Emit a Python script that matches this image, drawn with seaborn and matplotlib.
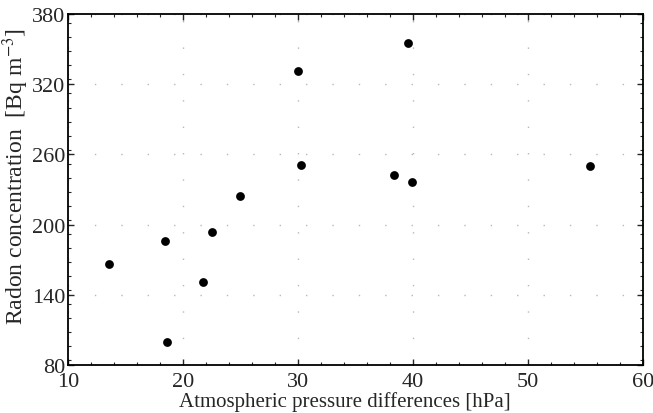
import matplotlib
matplotlib.use("Agg")
import matplotlib.pyplot as plt
import numpy as np
import pandas as pd
import seaborn as sns
from matplotlib.ticker import MultipleLocator

pressure = [13.6, 18.4, 18.6, 21.7, 22.5, 25.0, 30.3, 30.0, 39.6, 38.3, 39.9, 55.4]
radon = [166, 186, 100, 151, 194, 224, 251, 331, 355, 242, 236, 250]

df = pd.DataFrame({'pressure': pressure, 'radon': radon})

sns.set_style("ticks")
plt.rcParams['font.family'] = ['Liberation Serif', 'DejaVu Serif']
plt.rcParams['mathtext.fontset'] = 'stix'

fig = plt.figure(figsize=(6.53, 4.14), dpi=100)
ax = fig.add_axes([0.104, 0.116, 0.881, 0.848])

sns.scatterplot(data=df, x='pressure', y='radon', color='black', s=40,
                edgecolor='black', linewidth=0, ax=ax, zorder=3)

ax.set_xlim(10, 60)
ax.set_ylim(80, 380)
ax.set_xticks([10, 20, 30, 40, 50, 60])
ax.set_yticks([80, 140, 200, 260, 320, 380])
ax.xaxis.set_minor_locator(MultipleLocator(2))
ax.yaxis.set_minor_locator(MultipleLocator(12))
ax.tick_params(which='both', direction='in', top=True, right=True, labelsize=16)
ax.tick_params(axis='y', pad=2)
ax.tick_params(axis='x', pad=5)
ax.tick_params(which='major', length=4, width=1)
ax.tick_params(which='minor', length=2, width=0.8)
ax.grid(True, which='major', color='#b8b8b8', linestyle=(0, (1, 18)), linewidth=1.0)
for sp in ax.spines.values():
    sp.set_linewidth(1.3)
    sp.set_color('black')

ax.set_xlabel('Atmospheric pressure differences [hPa]', fontsize=15)
ax.set_ylabel('Radon concentration  [Bq m$^{-3}$]', fontsize=17)
ax.xaxis.set_label_coords(0.482, -0.073)
ax.yaxis.set_label_coords(-0.064, 0.54)

fig.savefig('out.png', dpi=100)
